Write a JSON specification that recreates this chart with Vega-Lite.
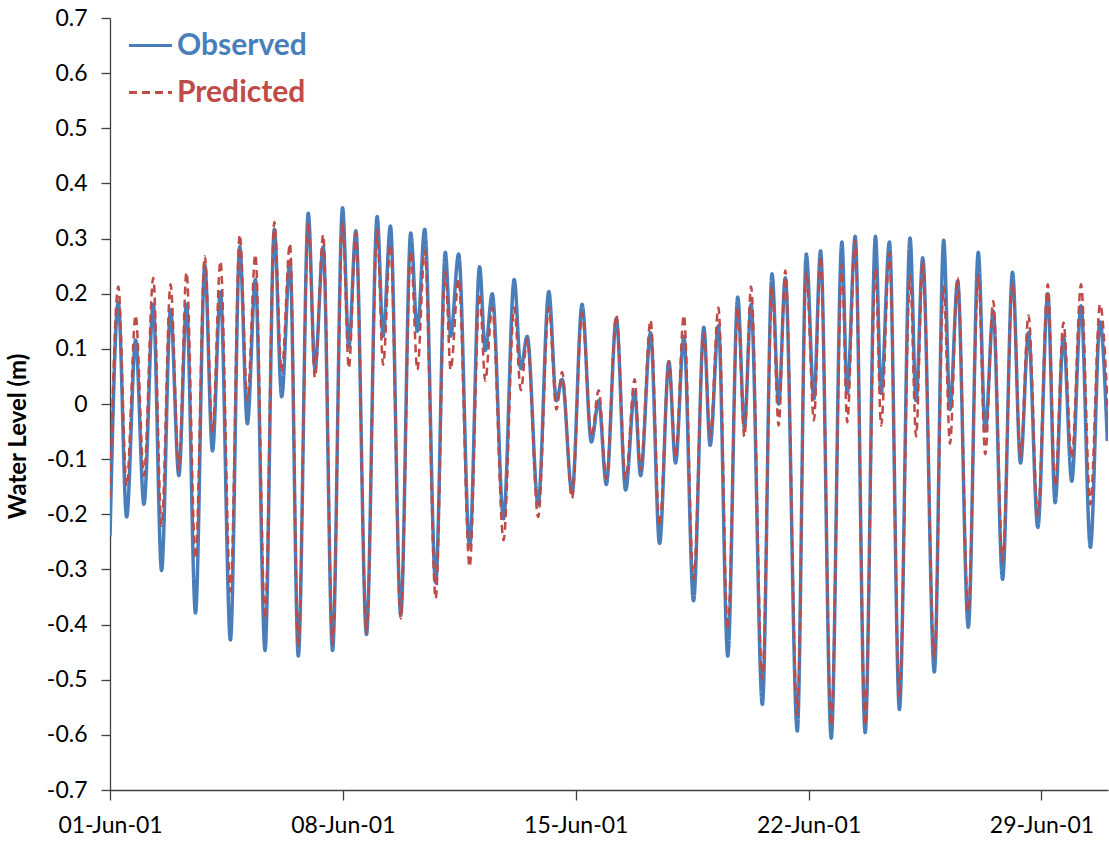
{
  "$schema": "https://vega.github.io/schema/vega-lite/v6.json",
  "autosize": {"type": "none"},
  "width": 998,
  "height": 772,
  "padding": {"left": 110, "top": 18, "right": 1, "bottom": 55},
  "background": "white",
  "config": {
    "view": {"stroke": null},
    "font": "Lato",
    "axis": {"grid": false, "domainColor": "#404040", "tickColor": "#404040", "labelColor": "#000000", "labelFont": "Lato", "labelFontSize": 23, "domainWidth": 1.3, "tickWidth": 1.3, "labelOverlap": false, "labelFlush": false}
  },
  "datasets": {
    "obs": [
      [0.00,-0.24],[0.25,0.184],[0.50,-0.205],[0.77,0.116],[1.02,-0.182],[1.30,0.181],[1.55,-0.302],[1.82,0.171],[2.07,-0.130],[2.30,0.181],
      [2.57,-0.379],[2.85,0.252],[3.08,-0.085],[3.32,0.203],[3.62,-0.428],[3.90,0.285],[4.13,-0.036],[4.37,0.226],[4.66,-0.447],[4.94,0.317],
      [5.16,0.013],[5.41,0.259],[5.66,-0.457],[5.96,0.346],[6.16,0.064],[6.41,0.285],[6.69,-0.447],[6.99,0.356],[7.18,0.103],[7.39,0.314],
      [7.71,-0.418],[8.03,0.340],[8.21,0.123],[8.43,0.323],[8.74,-0.383],[9.04,0.310],[9.24,0.132],[9.46,0.317],[9.79,-0.324],[10.08,0.275],
      [10.24,0.123],[10.48,0.272],[10.81,-0.260],[11.11,0.249],[11.28,0.097],[11.49,0.200],[11.83,-0.208],[12.15,0.226],[12.35,0.064],[12.54,0.123],
      [12.87,-0.182],[13.19,0.204],[13.42,0.006],[13.59,0.045],[13.89,-0.162],[14.19,0.181],[14.47,-0.069],[14.69,0.006],[14.92,-0.146],[15.22,0.155],
      [15.50,-0.156],[15.77,0.022],[15.95,-0.130],[16.25,0.129],[16.52,-0.253],[16.80,0.077],[17.00,-0.107],[17.25,0.123],[17.54,-0.357],[17.85,0.139],
      [18.04,-0.075],[18.29,0.142],[18.57,-0.457],[18.87,0.194],[19.07,-0.043],[19.27,0.181],[19.61,-0.545],[19.90,0.236],[20.10,0.000],[20.30,0.229],
      [20.66,-0.593],[20.93,0.272],[21.16,0.009],[21.36,0.278],[21.68,-0.606],[22.00,0.294],[22.16,0.019],[22.40,0.304],[22.70,-0.596],[23.01,0.304],
      [23.18,0.019],[23.43,0.294],[23.73,-0.554],[24.05,0.301],[24.23,0.006],[24.43,0.265],[24.78,-0.486],[25.06,0.297],[25.25,-0.010],[25.48,0.223],
      [25.80,-0.405],[26.10,0.275],[26.31,-0.049],[26.55,0.168],[26.83,-0.318],[27.13,0.239],[27.37,-0.107],[27.61,0.129],[27.89,-0.224],[28.19,0.200],
      [28.41,-0.179],[28.66,0.123],[28.91,-0.140],[29.19,0.178],[29.47,-0.260],[29.76,0.149],[29.98,-0.067]
    ],
    "pred": [
      [0.00,-0.17],[0.25,0.213],[0.50,-0.149],[0.77,0.161],[1.02,-0.130],[1.30,0.229],[1.55,-0.221],[1.82,0.217],[2.07,-0.120],[2.30,0.239],
      [2.57,-0.28],[2.85,0.268],[3.08,-0.052],[3.32,0.259],[3.62,-0.34],[3.90,0.307],[4.13,0.006],[4.37,0.271],[4.66,-0.39],[4.94,0.330],
      [5.16,0.058],[5.41,0.291],[5.66,-0.441],[5.96,0.330],[6.16,0.048],[6.41,0.307],[6.69,-0.435],[6.99,0.330],[7.18,0.065],[7.39,0.310],
      [7.71,-0.415],[8.03,0.316],[8.21,0.071],[8.43,0.289],[8.74,-0.389],[9.04,0.277],[9.24,0.062],[9.46,0.278],[9.79,-0.353],[10.08,0.240],
      [10.24,0.062],[10.48,0.226],[10.81,-0.295],[11.11,0.200],[11.28,0.042],[11.49,0.175],[11.83,-0.247],[12.15,0.175],[12.35,0.025],[12.54,0.118],
      [12.87,-0.205],[13.19,0.175],[13.42,-0.010],[13.59,0.058],[13.89,-0.171],[14.19,0.165],[14.47,-0.059],[14.69,0.025],[14.92,-0.136],[15.22,0.161],
      [15.50,-0.136],[15.77,0.045],[15.95,-0.120],[16.25,0.152],[16.52,-0.221],[16.80,0.077],[17.00,-0.097],[17.25,0.161],[17.54,-0.318],[17.85,0.129],
      [18.04,-0.059],[18.29,0.175],[18.57,-0.409],[18.87,0.175],[19.07,-0.059],[19.27,0.213],[19.61,-0.499],[19.90,0.213],[20.10,-0.039],[20.30,0.242],
      [20.66,-0.564],[20.93,0.240],[21.16,-0.030],[21.36,0.268],[21.68,-0.583],[22.00,0.252],[22.16,-0.033],[22.40,0.297],[22.70,-0.583],[23.01,0.246],
      [23.18,-0.039],[23.43,0.274],[23.73,-0.533],[24.05,0.233],[24.23,-0.059],[24.43,0.259],[24.78,-0.460],[25.06,0.213],[25.25,-0.072],[25.48,0.229],
      [25.80,-0.376],[26.10,0.233],[26.31,-0.091],[26.55,0.187],[26.83,-0.285],[27.13,0.220],[27.37,-0.097],[27.61,0.161],[27.89,-0.202],[28.19,0.217],
      [28.41,-0.149],[28.66,0.148],[28.91,-0.098],[29.19,0.217],[29.47,-0.182],[29.76,0.181],[30.00,-0.02]
    ]
  },
  "data": {"values": []},
  "layer": [
    {
      "data": {"name": "obs"},
      "transform": [
        {"calculate": "datum[0]", "as": "day"},
        {"calculate": "datum[1]", "as": "level"},
        {"calculate": "'Observed'", "as": "series"}
      ],
      "mark": {"type": "line", "interpolate": "monotone", "strokeWidth": 3.5, "clip": true},
      "encoding": {
        "x": {"field": "day", "type": "quantitative"},
        "y": {"field": "level", "type": "quantitative"},
        "color": {"field": "series", "type": "nominal"},
        "strokeDash": {"field": "series", "type": "nominal"}
      }
    },
    {
      "data": {"name": "pred"},
      "transform": [
        {"calculate": "datum[0]", "as": "day"},
        {"calculate": "datum[1]", "as": "level"},
        {"calculate": "'Predicted'", "as": "series"}
      ],
      "mark": {"type": "line", "interpolate": "monotone", "strokeWidth": 2.5, "clip": true},
      "encoding": {
        "x": {"field": "day", "type": "quantitative"},
        "y": {"field": "level", "type": "quantitative"},
        "color": {"field": "series", "type": "nominal"},
        "strokeDash": {"field": "series", "type": "nominal"}
      }
    }
  ],
  "encoding": {
    "x": {
      "field": "day", "type": "quantitative",
      "scale": {"domain": [0, 30], "nice": false, "zero": false},
      "axis": {"title": null, "values": [0, 7, 14, 21, 28], "tickSize": 10, "labelPadding": 14, "labelExpr": "timeFormat(datetime(2001, 5, 1 + datum.value), '%d-%b-%y')"}
    },
    "y": {
      "field": "level", "type": "quantitative",
      "scale": {"domain": [-0.7, 0.7], "nice": false, "zero": false},
      "axis": {"title": "Water Level (m)", "titleFontSize": 24, "titleFontWeight": "bold", "titleFont": "Lato", "titleColor": "#000000", "titleX": -80, "titleY": 418, "values": [-0.7,-0.6,-0.5,-0.4,-0.3,-0.2,-0.1,0,0.1,0.2,0.3,0.4,0.5,0.6,0.7], "tickSize": 9, "labelPadding": 14, "labelExpr": "replace(format(datum.value, '.1~f'), '\u2212', '-')"}
    },
    "color": {
      "field": "series", "type": "nominal",
      "scale": {"domain": ["Observed", "Predicted"], "range": ["#4A7EBB", "#BE4B48"]},
      "legend": {
        "title": null, "orient": "none", "legendX": 17, "legendY": 4,
        "symbolType": "stroke", "symbolSize": 1850, "symbolStrokeWidth": 3,
        "labelFontSize": 30, "labelFontWeight": "bold", "labelFont": "Lato", "rowPadding": 8, "labelOffset": 3,
        "encode": {"labels": {"update": {"fill": {"scale": "color", "field": "value"}}}}
      }
    },
    "strokeDash": {
      "field": "series", "type": "nominal",
      "scale": {"domain": ["Observed", "Predicted"], "range": [[1, 0], [8, 5]]},
      "legend": {"title": null}
    }
  }
}
